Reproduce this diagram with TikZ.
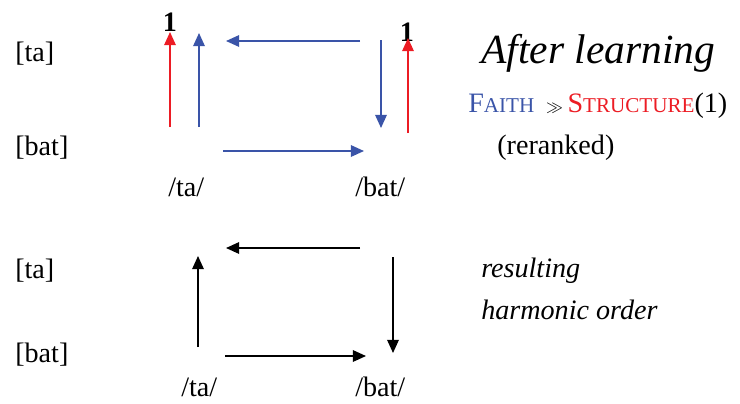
\documentclass[tikz,border=0pt]{standalone}
\usepackage{fontspec}
\setmainfont{Liberation Serif}
\usetikzlibrary{arrows.meta}
\definecolor{faithblue}{RGB}{58,84,168}
\definecolor{structred}{RGB}{236,28,36}
\newcommand{\fsc}[2]{#1{\fontsize{15}{17}\selectfont #2}}
\begin{document}
\begin{tikzpicture}[x=0.025cm,y=-0.025cm]
    \tikzstyle{form} = [anchor=base west, inner sep=0pt, font=\fontsize{20}{24}\selectfont]
    \tikzstyle{rank} = [anchor=base, inner sep=0pt, font=\fontsize{20}{24}\selectfont\bfseries]
    \tikzstyle{arrow} = [line width=1.1pt, -{Triangle[length=3.3mm,width=2.9mm]}]
    \useasboundingbox (0,0) rectangle (740,403);

    % Before/after: upper square
    \node (ta1) [form] at (15,61) {[ta]};
    \node (bat1) [form] at (15,155) {[bat]};
    \node (inta1) [form] at (168,196) {/ta/};
    \node (inbat1) [form] at (355,196) {/bat/};
    \node (one1) [rank] at (170,31) {1};
    \node (one2) [rank] at (407,41) {1};

    \coordinate (r1s) at (170,127); \coordinate (r1e) at (170,32);
    \coordinate (b1s) at (199,127); \coordinate (b1e) at (199,33);
    \coordinate (b2s) at (360,41);  \coordinate (b2e) at (226,41);
    \coordinate (b3s) at (381,40);  \coordinate (b3e) at (381,128);
    \coordinate (r2s) at (408,133); \coordinate (r2e) at (408,38);
    \coordinate (b4s) at (223,151); \coordinate (b4e) at (364,151);

    \draw [arrow, structred] (r1s) -- (r1e);
    \draw [arrow, faithblue] (b1s) -- (b1e);
    \draw [arrow, faithblue] (b2s) -- (b2e);
    \draw [arrow, faithblue] (b3s) -- (b3e);
    \draw [arrow, structred] (r2s) -- (r2e);
    \draw [arrow, faithblue] (b4s) -- (b4e);

    \node (title) [anchor=base west, inner sep=0pt, font=\fontsize{29.5}{34}\selectfont\itshape]
        at (481,63) {After learning};
    \node (ranking) [form] at (468,112)
        {\textcolor{faithblue}{\fsc{F}{AITH}}\ \,{\fontsize{12}{12}\selectfont$\gg$}\,\textcolor{structred}{\fsc{S}{TRUCTURE}}(1)};
    \node (rerank) [form] at (497,154) {(reranked)};

    % Resulting order: lower square
    \node (ta2) [form] at (15,278) {[ta]};
    \node (bat2) [form] at (15,362) {[bat]};
    \node (inta2) [form] at (181,396) {/ta/};
    \node (inbat2) [form] at (355,396) {/bat/};

    \coordinate (k1s) at (198,347); \coordinate (k1e) at (198,256);
    \coordinate (k2s) at (360,248); \coordinate (k2e) at (226,248);
    \coordinate (k3s) at (393,257); \coordinate (k3e) at (393,353);
    \coordinate (k4s) at (225,356); \coordinate (k4e) at (366,356);

    \draw [arrow] (k1s) -- (k1e);
    \draw [arrow] (k2s) -- (k2e);
    \draw [arrow] (k3s) -- (k3e);
    \draw [arrow] (k4s) -- (k4e);

    \node (result) [form, font=\fontsize{20}{24}\selectfont\itshape] at (481,277) {resulting};
    \node (harm) [form, font=\fontsize{20}{24}\selectfont\itshape] at (481,319) {harmonic order};
\end{tikzpicture}
\end{document}
